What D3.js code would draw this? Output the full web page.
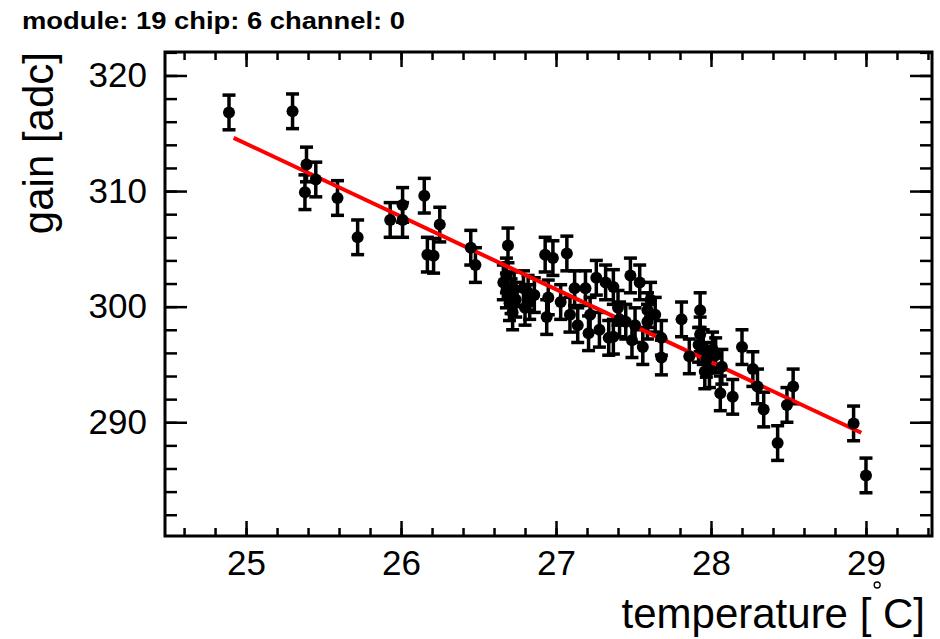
<!DOCTYPE html>
<html>
<head>
<meta charset="utf-8">
<script src="https://cdn.jsdelivr.net/npm/d3@7"></script>
<style>
  body { margin: 0; background: #fff; }
  svg text { font-family: "Liberation Sans", Arial, Helvetica, sans-serif; fill: #000; }
</style>
</head>
<body>
<div id="chart"></div>
<script>
// gain vs temperature, one channel
var temperature = [24.89, 25.30, 25.39, 25.38, 25.45, 25.59, 25.72, 25.93, 26.01, 26.01,
                   26.15, 26.17, 26.21, 26.25, 26.45, 26.48, 26.69, 26.66, 26.68, 26.71,
                   26.70, 26.73, 26.79, 26.83, 26.80, 26.93, 26.98, 27.07, 26.95, 26.94,
                   27.03, 27.09, 27.12, 27.14, 27.19, 27.21, 27.26, 27.22, 27.34, 27.32,
                   27.37, 27.37, 27.40, 27.45, 27.48, 27.49, 27.54, 27.56, 27.59, 27.59,
                   27.68, 27.68, 27.81, 27.93, 27.86, 27.95, 27.97, 27.99, 28.01, 28.07,
                   28.06, 28.14, 28.20, 28.27, 28.30, 28.34, 28.43, 28.49, 28.53, 28.92,
                   29.00, 27.93, 27.96, 26.74, 26.86, 27.41, 27.64, 26.68, 26.72, 26.82,
                   27.28, 27.51, 27.61, 27.92, 28.03];
var gain = [316.8, 316.9, 312.3, 309.9, 311.0, 309.4, 306.0, 307.5, 308.8, 307.5,
            309.6, 304.5, 304.4, 307.1, 305.1, 303.6, 305.3, 302.1, 301.4, 300.9,
            300.3, 301.5, 301.6, 300.4, 299.9, 304.5, 304.2, 304.6, 300.8, 299.1,
            300.4, 299.3, 301.6, 298.4, 301.6, 297.7, 302.5, 299.3, 297.3, 302.1,
            301.7, 297.4, 299.9, 298.7, 302.7, 297.1, 302.1, 296.5, 299.7, 298.7,
            297.3, 295.6, 298.9, 299.7, 295.7, 296.5, 295.4, 294.5, 296.3, 294.8,
            292.5, 292.2, 296.5, 294.6, 293.1, 291.1, 288.2, 291.5, 293.1, 289.9,
            285.4, 297.6, 294.4, 300.6, 301.0, 298.9, 299.3, 302.7, 299.5, 301.2,
            298.0, 298.4, 300.6, 296.7, 295.8];
var gainErr = 1.5;

// linear fit: gain = p0 + p1 * T
var fitP0 = 471.6, fitP1 = -6.30;
var fitRange = [24.92, 28.97];

var xMajor = [25, 26, 27, 28, 29];
var yMajor = [290, 300, 310, 320];

var title = "module: 19 chip: 6 channel: 0";
var xTitle = "temperature [ C]";
var yTitle = "gain [adc]";

var W = 940, H = 639;
var margin = {left: 165, top: 52, right: 8, bottom: 103};

var svg = d3.select("#chart").append("svg")
    .attr("width", W)
    .attr("height", H);

var x = d3.scaleLinear().domain([24.477, 29.426]).range([margin.left, W - margin.right]);
var y = d3.scaleLinear().domain([280.16, 322.03]).range([H - margin.bottom, margin.top]);

var x0 = margin.left, x1 = W - margin.right, y0 = H - margin.bottom, y1 = margin.top;

// minor ticks
function minorAxis(axis, scale, n, size) {
  return axis(scale).ticks(n).tickSize(size).tickFormat("");
}
svg.append("g").attr("transform", "translate(0," + y0 + ")").call(minorAxis(d3.axisBottom, x, 25, -8));
svg.append("g").attr("transform", "translate(0," + y1 + ")").call(minorAxis(d3.axisTop, x, 25, -8));
svg.append("g").attr("transform", "translate(" + x0 + ",0)").call(minorAxis(d3.axisLeft, y, 20, -12));
svg.append("g").attr("transform", "translate(" + x1 + ",0)").call(minorAxis(d3.axisRight, y, 20, -12));

// major ticks
svg.append("g").attr("class", "xaxis").attr("transform", "translate(0," + y0 + ")")
    .call(d3.axisBottom(x).tickValues(xMajor).tickSize(-15).tickPadding(14).tickFormat(d3.format("d")));
svg.append("g").attr("transform", "translate(0," + y1 + ")")
    .call(d3.axisTop(x).tickValues(xMajor).tickSize(-15).tickFormat(""));
svg.append("g").attr("class", "yaxis").attr("transform", "translate(" + x0 + ",0)")
    .call(d3.axisLeft(y).tickValues(yMajor).tickSize(-22).tickPadding(18).tickFormat(d3.format("d")));
svg.append("g").attr("transform", "translate(" + x1 + ",0)")
    .call(d3.axisRight(y).tickValues(yMajor).tickSize(-22).tickFormat(""));

svg.selectAll(".domain").remove();
svg.selectAll(".tick line").attr("stroke", "#000").attr("stroke-width", 2.5);
svg.selectAll(".xaxis text, .yaxis text")
    .style("font-size", "35px")
    .attr("fill", "#000");

// frame
svg.append("rect")
    .attr("x", x0).attr("y", y1)
    .attr("width", x1 - x0).attr("height", y0 - y1)
    .attr("fill", "none")
    .attr("stroke", "#000")
    .attr("stroke-width", 3);

var data = temperature.map(function(t, i) { return {t: t, g: gain[i]}; });

// error bars
var eb = svg.append("g").attr("stroke", "#000").attr("stroke-width", 3.5);
eb.selectAll(".ebar").data(data).enter().append("line")
    .attr("x1", function(d) { return x(d.t); })
    .attr("x2", function(d) { return x(d.t); })
    .attr("y1", function(d) { return y(d.g - gainErr); })
    .attr("y2", function(d) { return y(d.g + gainErr); });
[-1, 1].forEach(function(s) {
  eb.selectAll(".cap" + s).data(data).enter().append("line")
      .attr("x1", function(d) { return x(d.t) - 6.5; })
      .attr("x2", function(d) { return x(d.t) + 6.5; })
      .attr("y1", function(d) { return y(d.g + s * gainErr); })
      .attr("y2", function(d) { return y(d.g + s * gainErr); });
});

// fit
svg.append("line")
    .attr("x1", x(fitRange[0])).attr("y1", y(fitP0 + fitP1 * fitRange[0]))
    .attr("x2", x(fitRange[1])).attr("y2", y(fitP0 + fitP1 * fitRange[1]))
    .attr("stroke", "#ff0000")
    .attr("stroke-width", 4);

// markers
svg.selectAll(".pt").data(data).enter().append("circle")
    .attr("cx", function(d) { return x(d.t); })
    .attr("cy", function(d) { return y(d.g); })
    .attr("r", 6)
    .attr("fill", "#000");

// titles
svg.append("text")
    .attr("x", 22).attr("y", 29)
    .attr("textLength", 383)
    .attr("lengthAdjust", "spacingAndGlyphs")
    .style("font-size", "23px")
    .style("font-weight", "bold")
    .text(title);

svg.append("text")
    .attr("transform", "translate(53," + y1 + ") rotate(-90)")
    .attr("text-anchor", "end")
    .style("font-size", "42px")
    .text(yTitle);

var xt = svg.append("text")
    .attr("x", 925).attr("y", 628)
    .attr("text-anchor", "end")
    .style("font-size", "42px")
    .text(xTitle);

// degree circle sitting over the gap before C
var node = xt.node();
var gap = xTitle.indexOf(" C");
var gx = (node.getStartPositionOfChar(gap).x + node.getEndPositionOfChar(gap).x) / 2;
svg.append("circle")
    .attr("cx", gx).attr("cy", 585)
    .attr("r", 3)
    .attr("fill", "none")
    .attr("stroke", "#000")
    .attr("stroke-width", 1.3);
</script>
</body>
</html>
